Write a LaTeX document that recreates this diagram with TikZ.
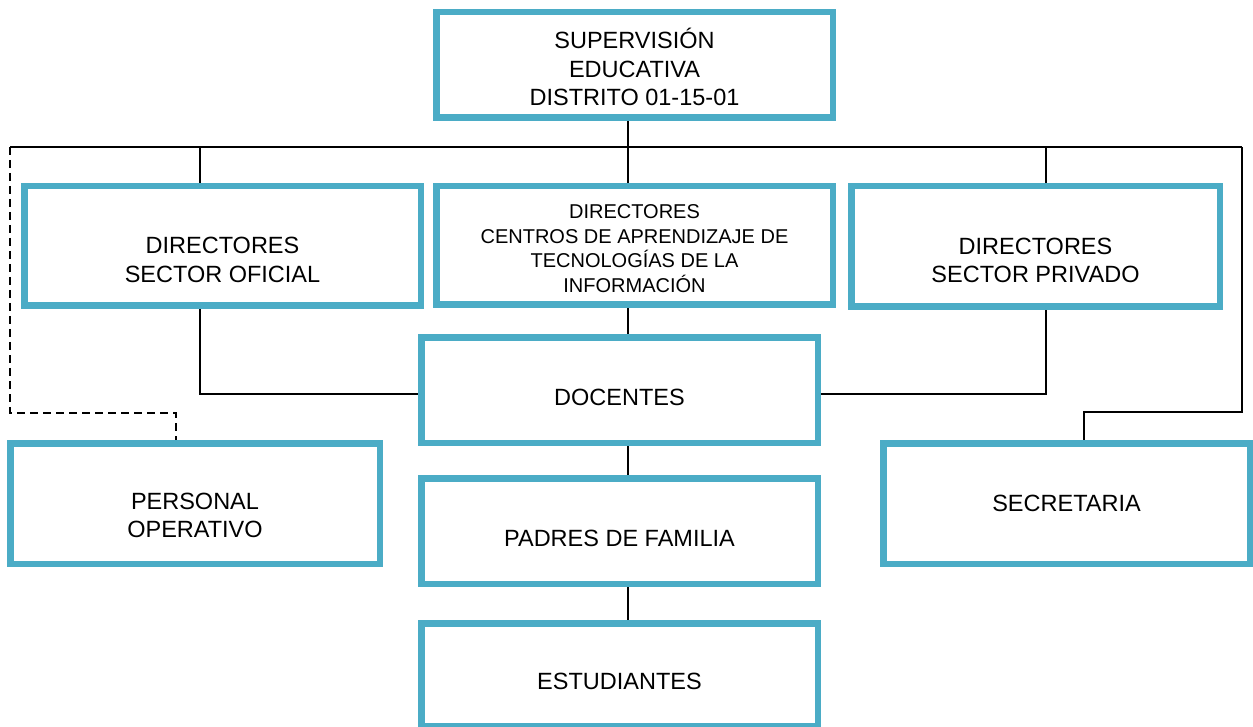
\documentclass[tikz,border=0pt]{standalone}
\usepackage{fontspec}
\setmainfont{Liberation Sans}
\usetikzlibrary{backgrounds}
\definecolor{teal5}{RGB}{75,172,198}
\begin{document}
\begin{tikzpicture}[x=1pt,y=-1pt,
  box/.style={draw=teal5,line width=6.5pt,fill=white,rectangle,inner sep=0pt},
  txt/.style={align=center,inner sep=0pt,font=\fontsize{23.5}{28.5}\selectfont},
  smalltxt/.style={align=center,inner sep=0pt,font=\fontsize{20}{24.5}\selectfont},
  conn/.style={draw=black,line width=1.8pt},
  dconn/.style={draw=black,line width=1.8pt,dash pattern=on 8pt off 5pt}]
\useasboundingbox (0,0) rectangle (1253,727);
% boxes
\node[box,minimum width=396.5pt,minimum height=105.5pt] (top) at (634.5,65) {};
\node[box,minimum width=396.5pt,minimum height=119.5pt] (oficial) at (222.5,246) {};
\node[box,minimum width=396.5pt,minimum height=118.5pt] (centros) at (634.5,245.5) {};
\node[box,minimum width=368.5pt,minimum height=120.5pt] (privado) at (1035.5,246.5) {};
\node[box,minimum width=396.5pt,minimum height=105.5pt] (docentes) at (619.5,390) {};
\node[box,minimum width=369.5pt,minimum height=120.5pt] (personal) at (195,503.5) {};
\node[box,minimum width=396.5pt,minimum height=105.5pt] (padres) at (619.5,531) {};
\node[box,minimum width=366.5pt,minimum height=120.5pt] (secretaria) at (1066.5,503.5) {};
\node[box,minimum width=396.5pt,minimum height=102.5pt] (estudiantes) at (619.5,674.5) {};
% texts
\node[txt] (topT) at ([yshift=-2pt]top.center) {SUPERVISIÓN\\EDUCATIVA\\DISTRITO 01-15-01};
\node[txt] (oficialT) at ([yshift=-14pt]oficial.center) {DIRECTORES\\SECTOR OFICIAL};
\node[smalltxt] (centrosT) at ([yshift=-3pt]centros.center) {DIRECTORES\\CENTROS DE APRENDIZAJE DE\\TECNOLOGÍAS DE LA\\INFORMACIÓN};
\node[txt] (privadoT) at ([yshift=-14pt]privado.center) {DIRECTORES\\SECTOR PRIVADO};
\node[txt] (docentesT) at ([yshift=-7pt]docentes.center) {DOCENTES};
\node[txt] (personalT) at ([yshift=-12pt]personal.center) {PERSONAL\\OPERATIVO};
\node[txt] (secretariaT) at (secretaria.center) {SECRETARIA};
\node[txt] (padresT) at ([yshift=-7pt]padres.center) {PADRES DE FAMILIA};
\node[txt] (estudiantesT) at ([yshift=-7pt]estudiantes.center) {ESTUDIANTES};
% connector coordinates
\coordinate (busL) at (10,147);
\coordinate (busR) at (1242,147);
\coordinate (trunk) at (628,147);
\coordinate (bO) at (200,147);
\coordinate (bP) at (1046,147);
\coordinate (rK) at (1242,412);
\coordinate (rS) at (1084,412);
\coordinate (lK) at (10,413);
\coordinate (lP) at (176,413);
\coordinate (oK) at (200,394);
\coordinate (pK) at (1046,394);
\begin{scope}[on background layer]
\draw[conn] (top.south -| trunk) -- (trunk);
\draw[conn] (busL) -- (busR);
\draw[conn] (bO) -- (oficial.north -| bO);
\draw[conn] (trunk) -- (centros.north -| trunk);
\draw[conn] (bP) -- (privado.north -| bP);
\draw[conn] (busR) -- (rK) -- (rS) -- (secretaria.north -| rS);
\draw[dconn] (busL) -- (lK) -- (lP) -- (personal.north -| lP);
\draw[conn] (oficial.south -| oK) -- (oK) -- (docentes.west |- oK);
\draw[conn] (privado.south -| pK) -- (pK) -- (docentes.east |- pK);
\draw[conn] (centros.south -| trunk) -- (docentes.north -| trunk);
\draw[conn] (docentes.south -| trunk) -- (padres.north -| trunk);
\draw[conn] (padres.south -| trunk) -- (estudiantes.north -| trunk);
\end{scope}
\end{tikzpicture}
\end{document}
